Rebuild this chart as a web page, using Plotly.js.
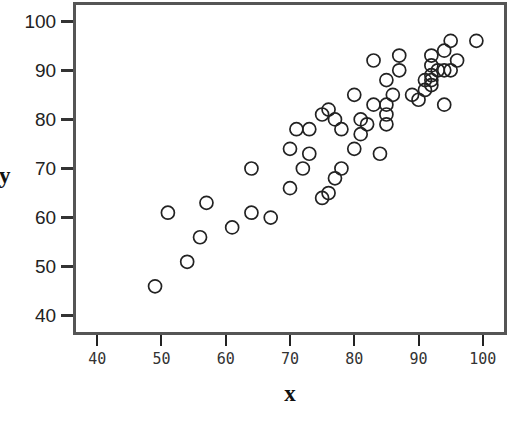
<!DOCTYPE html>
<html>
<head>
<meta charset="utf-8">
<script src="https://cdn.plot.ly/plotly-3.0.1.min.js"></script>
<style>html,body{margin:0;padding:0;background:#fff;}#chart{width:529px;height:421px;}</style>
</head>
<body>
<div id="chart"></div>
<script>
const xValues = [49, 51, 54, 56, 57, 61, 64, 64, 67, 70, 70, 71, 72, 73, 73, 75, 75, 76, 76, 77, 77, 78, 78,
  80, 80, 81, 81, 82, 83, 83, 84, 85, 85, 85, 85, 86, 87, 87, 89, 90, 91, 91, 92, 92, 92, 92, 92, 93,
  94, 94, 94, 95, 95, 96, 99];
const yValues = [46, 61, 51, 56, 63, 58, 70, 61, 60, 66, 74, 78, 70, 78, 73, 81, 64, 82, 65, 80, 68, 78, 70,
  85, 74, 80, 77, 79, 92, 83, 73, 88, 83, 81, 79, 85, 93, 90, 85, 84, 88, 86, 93, 91, 89, 87, 88, 90,
  94, 90, 83, 96, 90, 92, 96];
const tickValues = [40, 50, 60, 70, 80, 90, 100];
const tickLabels = ['40', '50', '60', '70', '80', '90', '100'];
const xTitle = 'x';
const yTitle = 'y';

const titleFont = {family: 'Liberation Serif, DejaVu Serif, serif', size: 23, color: '#111', weight: 'bold'};

const trace = {
  x: xValues, y: yValues, type: 'scatter', mode: 'markers',
  marker: {symbol: 'circle-open', size: 13, color: '#222', line: {width: 1.7, color: '#222'}},
  hoverinfo: 'x+y'
};
const layout = {
  width: 529, height: 421,
  margin: {l: 76, r: 25, t: 5, b: 89},
  paper_bgcolor: '#fff', plot_bgcolor: '#fff',
  showlegend: false,
  xaxis: {
    range: [36.7, 103.3], tickvals: tickValues, ticktext: tickLabels,
    showgrid: false, zeroline: false,
    showline: true, mirror: true, linecolor: '#555', linewidth: 3,
    ticks: 'outside', ticklen: 11, tickwidth: 2, tickcolor: '#222',
    tickfont: {family: 'DejaVu Sans Mono, monospace', size: 15, color: '#333'},
    title: {text: xTitle, font: titleFont, standoff: 18}
  },
  yaxis: {
    range: [36.7, 103.3], tickvals: tickValues, ticktext: tickLabels,
    showgrid: false, zeroline: false,
    showline: true, mirror: true, linecolor: '#555', linewidth: 3,
    ticks: 'outside', ticklen: 12, tickwidth: 3, tickcolor: '#333',
    tickfont: {family: 'Liberation Sans, Arial, sans-serif', size: 19, color: '#222'},
    ticklabelstandoff: 1
  },
  annotations: [{
    text: yTitle, xref: 'paper', yref: 'y', x: -0.165, y: 68.6,
    xanchor: 'center', yanchor: 'middle', showarrow: false, font: titleFont
  }]
};
Plotly.newPlot('chart', [trace], layout, {displayModeBar: false, staticPlot: true});
</script>
</body>
</html>
